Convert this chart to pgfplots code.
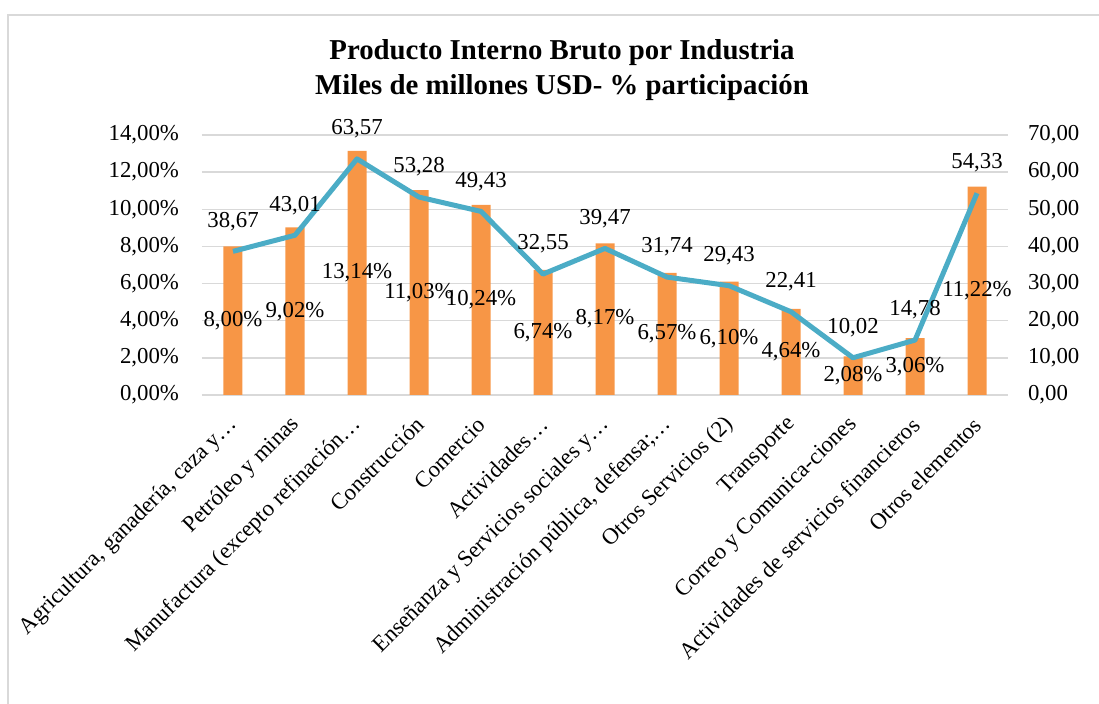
\documentclass[border=0pt]{standalone}
\usepackage{pgfplots}
\pgfplotsset{compat=1.18}
\usepackage{pgfplotstable}
\usepackage{fontspec}
\setmainfont{Liberation Serif}
\definecolor{barorange}{HTML}{F79646}
\definecolor{lineblue}{HTML}{4BACC6}
\definecolor{gridgray}{HTML}{D9D9D9}

\pgfplotstableread{
x pct val
0 8.00 38.67
1 9.02 43.01
2 13.14 63.57
3 11.03 53.28
4 10.24 49.43
5 6.74 32.55
6 8.17 39.47
7 6.57 31.74
8 6.10 29.43
9 4.64 22.41
10 2.08 10.02
11 3.06 14.78
12 11.22 54.33
}\data

\newcommand{\lblfont}{\fontsize{11.4}{13}\selectfont}

\begin{document}
\begin{tikzpicture}
\useasboundingbox (0pt,0pt) rectangle (549.5pt,352pt);
\draw[gridgray, line width=1pt] (4pt,-2pt) -- (4pt,344.5pt) -- (552pt,344.5pt);
\node[font=\fontsize{14.4}{17.5}\selectfont\bfseries, align=center] at (281pt,316.8pt)
  {Producto Interno Bruto por Industria\\Miles de millones USD- \% participación};

\begin{axis}[
  at={(101pt,154.5pt)}, anchor=south west,
  scale only axis, width=403pt, height=130pt,
  xmin=-0.5, xmax=12.5, ymin=0, ymax=14,
  /pgf/number format/assume math mode=true,
  axis x line*=bottom, axis y line*=left,
  x axis line style={gridgray, line width=0.75pt, -},
  y axis line style={draw=none},
  ymajorgrids, grid style={gridgray, line width=0.75pt},
  major tick length=0pt,
  ytick={0,2,...,14},
  yticklabel={\pgfmathprintnumber[fixed,fixed zerofill,precision=2,use comma,assume math mode=true]{\tick}\%},
  yticklabel style={font=\lblfont, anchor=east, xshift=-8pt},
  xtick={0,...,12},
  xticklabels={{Agricultura, ganadería, caza y…},{Petróleo y minas},{Manufactura (excepto refinación…},{Construcción},{Comercio},{Actividades…},{Enseñanza  y Servicios sociales y…},{Administración pública, defensa;…},{Otros Servicios (2)},{Transporte},{Correo y Comunica-ciones},{Actividades de servicios financieros},{Otros elementos}},
  xticklabel style={font=\lblfont, inner sep=0pt, yshift=-13pt, xshift=0.5pt, rotate=45, anchor=east},
  clip=false,
]
\addplot[ybar, fill=barorange, draw=none, bar width=9.5pt] table[x=x,y=pct]{\data};
\addplot[draw=none, mark=none, point meta=explicit,
  nodes near coords={\pgfmathprintnumber[fixed,fixed zerofill,precision=2,use comma,assume math mode=true]{\pgfplotspointmeta}\%},
  nodes near coords style={anchor=center, font=\lblfont, text=black, inner sep=0pt}]
  table[x=x, y expr=\thisrow{pct}/2, meta=pct]{\data};
\end{axis}

\begin{axis}[
  at={(101pt,154.5pt)}, anchor=south west,
  scale only axis, width=403pt, height=130pt,
  xmin=-0.5, xmax=12.5, ymin=0, ymax=70,
  /pgf/number format/assume math mode=true,
  axis x line=none, axis y line*=right,
  y axis line style={draw=none},
  major tick length=0pt,
  ytick={0,10,...,70},
  yticklabel={\pgfmathprintnumber[fixed,fixed zerofill,precision=2,use comma,assume math mode=true]{\tick}},
  yticklabel style={font=\lblfont, anchor=west, xshift=6.5pt},
  clip=false,
]
\addplot[lineblue, line width=2.5pt, line join=round, mark=none, point meta=explicit,
  nodes near coords={\pgfmathprintnumber[fixed,fixed zerofill,precision=2,use comma,assume math mode=true]{\pgfplotspointmeta}},
  nodes near coords style={anchor=center, yshift=15pt, font=\lblfont, text=black, inner sep=0pt}]
  table[x=x, y=val, meta=val]{\data};
\end{axis}
\end{tikzpicture}
\end{document}
